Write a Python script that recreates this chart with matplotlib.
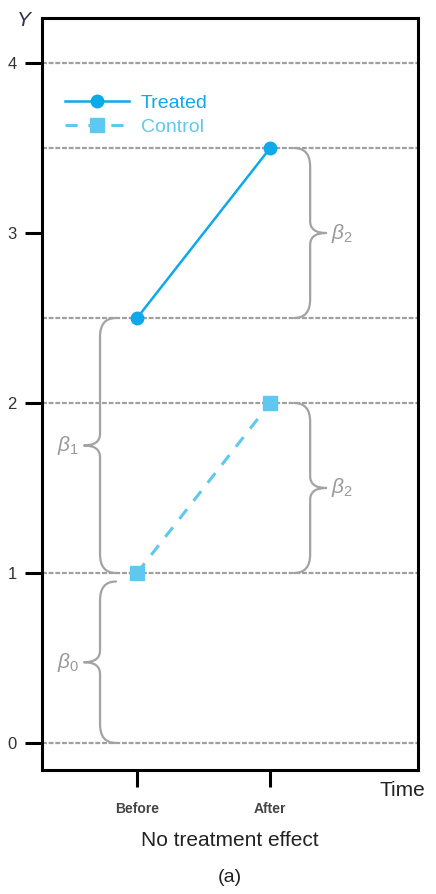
import numpy as np
import matplotlib
matplotlib.use('Agg')
import matplotlib.pyplot as plt
from matplotlib.path import Path
from matplotlib.patches import PathPatch

plt.rcParams['font.family'] = ['Liberation Sans', 'DejaVu Sans']
plt.rcParams['mathtext.fontset'] = 'custom'
plt.rcParams['mathtext.rm'] = 'Liberation Sans'
plt.rcParams['mathtext.it'] = 'Liberation Sans:italic'

# data
periods = ['Before', 'After']
period_x = [0, 1]
treated = [2.5, 3.5]
control = [1.0, 2.0]
ref_lines = [0, 1, 2, 2.5, 3.5, 4]
yticks = [0, 1, 2, 3, 4]
# braces: (x of spine, y start, y end, side the tip points to, label)
braces = [
    (-0.278, 0.0, 0.95, 'left', r'$\beta_0$'),
    (-0.278, 1.0, 2.5, 'left', r'$\beta_1$'),
    (1.30, 2.5, 3.5, 'right', r'$\beta_2$'),
    (1.30, 1.0, 2.0, 'right', r'$\beta_2$'),
]

c_treat = '#0fa8ea'
c_ctrl = '#5fc8f1'
c_brace = '#a3a3a3'


def brace(ax, xs, y0, y1, side, label):
    s = -1 if side == 'left' else 1
    d, e, r, rm = 0.12, 0.12, 0.11, 0.07
    ym = 0.5 * (y0 + y1)
    verts = [(xs - s*e, y0), (xs, y0), (xs, y0 + r),
             (xs, ym - rm), (xs, ym), (xs + s*d, ym),
             (xs, ym), (xs, ym + rm),
             (xs, y1 - r), (xs, y1), (xs - s*e, y1)]
    codes = [Path.MOVETO, Path.CURVE3, Path.CURVE3,
             Path.LINETO, Path.CURVE3, Path.CURVE3,
             Path.CURVE3, Path.CURVE3,
             Path.LINETO, Path.CURVE3, Path.CURVE3]
    ax.add_patch(PathPatch(Path(verts, codes), fill=False, ec=c_brace,
                           lw=1.6, capstyle='round', joinstyle='round', zorder=3))
    tx = xs + s*(d + 0.04)
    ax.text(tx, ym, label, color='#9a9a9a', fontsize=15,
            ha='right' if side == 'left' else 'left', va='center')


fig = plt.figure(figsize=(4.36, 8.94), dpi=100)
ax = fig.add_axes([0.0963, 0.1387, 0.8624, 0.8412])

for y in ref_lines:
    ax.axhline(y, color='#a0a0a0', lw=1.6, ls=(0, (2.2, 0.8)), zorder=1)

ax.plot(period_x, treated, '-', color=c_treat, lw=1.8, marker='o', ms=9,
        label='Treated', zorder=4)
ax.plot(period_x, control, color=c_ctrl, lw=2.2, ls=(0, (4, 3.5)), marker='s',
        ms=10, label='Control', zorder=4)

for b in braces:
    brace(ax, *b)

ax.set_xlim(-0.714, 2.11)
ax.set_ylim(-0.159, 4.265)
ax.set_yticks(yticks)
ax.set_xticks(period_x)
ax.set_xticklabels(periods, fontsize=10, fontweight='bold', color='#444444')
ax.tick_params(axis='y', labelsize=12, labelcolor='#333333', pad=6)
ax.tick_params(axis='x', pad=11)
ax.tick_params(length=12, width=2.2, direction='out')
for sp in ax.spines.values():
    sp.set_linewidth(2.2)

leg = ax.legend(loc='upper left', bbox_to_anchor=(0.061, 0.898), frameon=False,
                fontsize=14, handlelength=3.3, handletextpad=0.6,
                labelspacing=0.3, borderpad=0, borderaxespad=0,
                labelcolor='linecolor')

fig.text(24/436, 1 - 21/894, 'Y', fontsize=15, style='italic',
         color='#333344', ha='center', va='center')
fig.text(402/436, 1 - 791/894, 'Time', fontsize=15, color='#222222',
         ha='center', va='center')
fig.text(230/436, 1 - 840/894, 'No treatment effect', fontsize=15,
         color='#222222', ha='center', va='center')
fig.text(230/436, 1 - 877/894, '(a)', fontsize=14, color='#222222',
         ha='center', va='center')

fig.savefig('out.png', dpi=100)
